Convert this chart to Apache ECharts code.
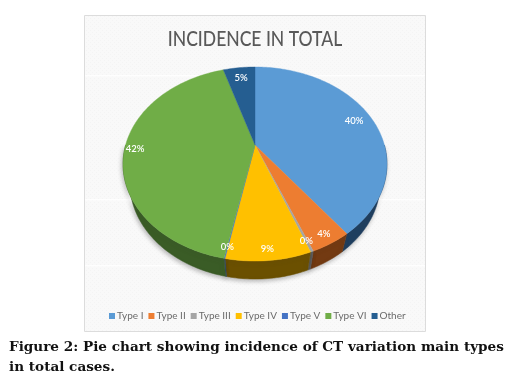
<!DOCTYPE html>
<html><head><meta charset="utf-8">
<style>html,body{margin:0;padding:0;background:#fff}#c{width:512px;height:382px}</style>
<script src="https://cdn.jsdelivr.net/npm/echarts@6/dist/echarts.min.js"></script>
</head><body><div id="c"></div>
<script>
const categories = ['Type I','Type II','Type III','Type IV','Type V','Type VI','Other'];
const values = [39.8,4.2,0.3,8.7,0.1,42.2,4.7];
const topColors = ['#5b9bd5','#ed7d31','#a5a5a5','#ffc000','#4472c4','#70ad47','#255e91'];
const sideColors = ['#1f3f60','#733a12','#5c5c5c','#6b5000','#2a4473','#3a5c26','#143552'];
const chartTitle = 'INCIDENCE IN TOTAL';
const captionLines = ['Figure 2: Pie chart showing incidence of CT variation main types','in total cases.'];

const total = values.reduce((a,b)=>a+b,0);
const starts = []; { let s=0; values.forEach(v=>{starts.push(s); s+=v;}); }
// tilted-disc projection
const cx=255, cy=145, A=129.4, B=93.3, K=0.196, depth=18, shrink=0.95;
function proj(theta,r){
  const u=r*Math.sin(theta), v=r*Math.cos(theta), w=1+K*v;
  return [cx+A*u/w, cy-B*v/w];
}
function rimBetween(a0,a1){
  const n=Math.max(2,Math.ceil((a1-a0)/0.02)), rim=[];
  for(let k=0;k<=n;k++) rim.push(proj(a0+(a1-a0)*k/n,1));
  return rim;
}
function wedge(i){
  const a0=starts[i]/total*2*Math.PI, a1=(starts[i]+values[i])/total*2*Math.PI;
  return {a0,a1,rim:rimBetween(a0,a1)};
}
function renderSide(params){
  const i=params.seriesIndex-0, w=wedge(i);
  const lo=Math.max(w.a0,Math.PI/2), hi=Math.min(w.a1,Math.PI*1.5);
  if(hi<=lo) return null;
  const rim=rimBetween(lo,hi);
  const low=rim.map(p=>[cx+(p[0]-cx)*shrink,p[1]+depth]).reverse();
  return {type:'polygon',shape:{points:rim.concat(low)},style:{fill:sideColors[i],stroke:sideColors[i],lineWidth:0.5,shadowColor:'rgba(60,60,60,0.35)',shadowBlur:4,shadowOffsetX:-1,shadowOffsetY:2},z2:1};
}
function renderTop(params){
  const i=params.seriesIndex-7, w=wedge(i);
  const mid=(w.a0+w.a1)/2, r=Math.cos(mid)<0?0.92:0.85, lp=proj(mid,r);
  return {type:'group',children:[
    {type:'polygon',shape:{points:[[cx,cy]].concat(w.rim)},style:{fill:topColors[i],stroke:topColors[i],lineWidth:0.4},z2:2},
    {type:'text',x:lp[0],y:lp[1],z2:5,style:{text:Math.round(values[i])+'%',fill:'#fff',font:'600 9.5px Lato',align:'center',verticalAlign:'middle'}}
  ]};
}
const series=[];
categories.forEach((c,i)=>series.push({type:'custom',name:'side '+c,coordinateSystem:'none',renderItem:renderSide,data:[values[i]],silent:true,animation:false,z:2}));
categories.forEach((c,i)=>series.push({type:'custom',name:c,coordinateSystem:'none',renderItem:renderTop,data:[values[i]],silent:true,animation:false,z:3,itemStyle:{color:topColors[i]}}));

const tile=document.createElement('canvas'); tile.width=4; tile.height=4;
{const g=tile.getContext('2d'); g.fillStyle='#f9f9f9'; g.fillRect(0,0,4,4); g.fillStyle='#f4f4f4'; g.fillRect(0,0,1,1); g.fillRect(2,2,1,1);}

const chart=echarts.init(document.getElementById('c'),null,{renderer:'canvas'});
chart.setOption({
  animation:false,
  backgroundColor:'#fff',
  legend:{data:categories,left:104,top:306,itemWidth:6,itemHeight:6,itemGap:5,icon:'rect',
    textStyle:{fontFamily:'Lato',fontSize:10,color:'#6b6b6b',padding:[0,0,0,-3]}},
  graphic:[
    {type:'rect',z:0,shape:{x:84.5,y:15.5,width:341,height:316},style:{fill:{image:tile,repeat:'repeat'},stroke:'#dcdcdc',lineWidth:1}},
    {type:'rect',z:0,shape:{x:85,y:75,width:340,height:1.5},style:{fill:'rgba(255,255,255,0.8)'}},
    {type:'rect',z:0,shape:{x:85,y:199,width:340,height:1.5},style:{fill:'rgba(255,255,255,0.8)'}},
    {type:'rect',z:0,shape:{x:85,y:265,width:340,height:1.5},style:{fill:'rgba(255,255,255,0.8)'}},
    {type:'text',z:1,x:255,y:39,originX:0,originY:0,scaleX:0.855,style:{text:chartTitle,fill:'#595959',font:'500 20.5px Lato',align:'center',verticalAlign:'middle'}},
    {type:'text',z:1,x:9,y:347,style:{text:captionLines[0],fill:'#111',font:'bold 13.6px "DejaVu Serif"',verticalAlign:'middle'}},
    {type:'text',z:1,x:9,y:367,style:{text:captionLines[1],fill:'#111',font:'bold 13.6px "DejaVu Serif"',verticalAlign:'middle'}}
  ],
  series:series
});
</script></body></html>
